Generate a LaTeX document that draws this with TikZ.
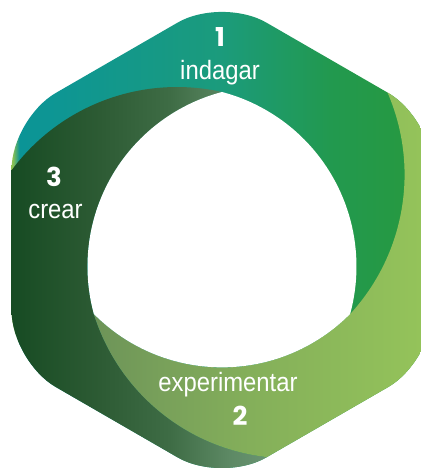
\documentclass[tikz,border=0pt]{standalone}
\usepackage{fontspec}
\usepackage{xcolor}
\usepackage{tikz}
\usetikzlibrary{positioning,calc}
\newfontfamily\wordfont{Liberation Sans}[FakeStretch=0.9]
\newfontfamily\numfont{Poppins}

\definecolor{indA}{HTML}{8DC153}
\definecolor{indB}{HTML}{0B9496}
\definecolor{indC}{HTML}{0E9693}
\definecolor{indD}{HTML}{1B9B7C}
\definecolor{indE}{HTML}{22994F}
\definecolor{indF}{HTML}{27993F}
\definecolor{creA}{HTML}{174B23}
\definecolor{creB}{HTML}{2D5B34}
\definecolor{creC}{HTML}{3E6C45}
\definecolor{creD}{HTML}{5D8964}
\definecolor{creE}{HTML}{6B9573}
\definecolor{expA}{HTML}{6C9358}
\definecolor{expB}{HTML}{78A05A}
\definecolor{expC}{HTML}{84AF5A}
\definecolor{expD}{HTML}{94C35A}

\pgfdeclarehorizontalshading{indagarshade}{100bp}{color(0bp)=(indA); color(25.2bp)=(indA); color(26bp)=(indB); color(30.8bp)=(indC); color(49.8bp)=(indD); color(62.8bp)=(indE); color(73.5bp)=(indF); color(100bp)=(indF)}
\pgfdeclarehorizontalshading{crearshade}{100bp}{color(0bp)=(creA); color(25bp)=(creA); color(35.5bp)=(creB); color(43.8bp)=(creC); color(50.9bp)=(creD); color(55.7bp)=(creE); color(100bp)=(creE)}
\pgfdeclarehorizontalshading{experimentarshade}{100bp}{color(0bp)=(expA); color(34.4bp)=(expA); color(42.7bp)=(expB); color(53.3bp)=(expC); color(73.5bp)=(expD); color(100bp)=(expD)}

\begin{document}
\begin{tikzpicture}[x=1pt,y=1pt,
  stagename/.style={text=white,inner sep=0pt,font=\wordfont\fontsize{26.5}{30}\selectfont},
  stagenum/.style={text=white,inner sep=0pt,font=\numfont\bfseries\fontsize{26}{30}\selectfont}]
\useasboundingbox (-222,-228) rectangle (198,240);
\coordinate (H1) at (90:148);
\coordinate (H2) at (210:148);
\coordinate (H3) at (330:148);
\coordinate (E1) at (138.84,-206);
\coordinate (E2) at (108.98,223.2);
\begin{scope}
\clip[rounded corners=51pt] (-210.44,0) -- (210:243) -- (270:243) -- (330:243) -- (30:243) -- (90:243) -- (150:243) -- cycle;
\shade[shading=indagarshade] (-211,-245) rectangle (211,245);
\begin{scope}
\clip (H1) arc[start angle=77.39,end angle=170,radius=206pt] -- (-260,-300) -- (138.84,-300) -- (E1)
  arc[start angle=290,end angle=197.39,radius=206pt] arc[start angle=195.26,end angle=104.74,radius=180.4pt] -- cycle;
\shade[shading=crearshade] (-211,-245) rectangle (211,245);
\end{scope}
\begin{scope}
\clip (H2) arc[start angle=197.39,end angle=290,radius=206pt] -- (300,-300) -- (300,223.2) -- (E2)
  arc[start angle=410,end angle=317.39,radius=206pt] arc[start angle=315.26,end angle=224.74,radius=180.4pt] -- cycle;
\shade[shading=experimentarshade] (-211,-245) rectangle (211,245);
\end{scope}
\fill[white] (H1) arc[start angle=104.74,end angle=195.26,radius=180.4pt]
  arc[start angle=224.74,end angle=315.26,radius=180.4pt]
  arc[start angle=344.74,end angle=435.26,radius=180.4pt] -- cycle;
\end{scope}
\node[stagenum,anchor=base]  (N1) at (-2,193)  {1};
\node[stagename] (S1) [below=13pt of N1] {indagar};
\node[stagenum,anchor=base]  (N3) at (-168,53) {3};
\node[stagename] (S3) [below=17pt of N3, xshift=1.5pt] {crear};
\node[stagenum,anchor=base]  (N2) at (18,-185) {2};
\node[stagename] (S2) [above=8pt of N2, xshift=-12pt] {experimentar};
\end{tikzpicture}
\end{document}
